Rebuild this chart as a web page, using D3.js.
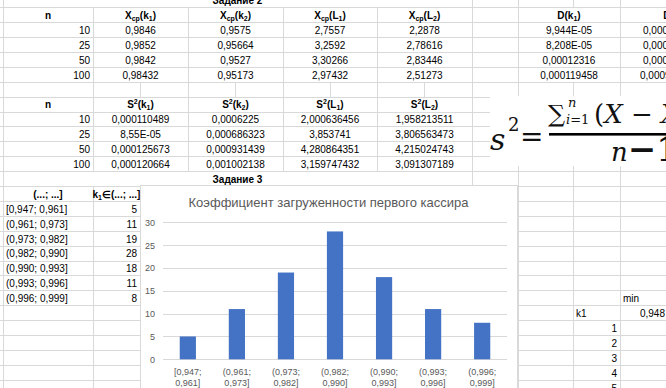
<!DOCTYPE html>
<html lang="ru">
<head>
<meta charset="UTF-8">
<title>Задание 3 — коэффициент загруженности</title>
<style>
  body { margin: 0; padding: 0; background: #fff; }
  svg { display: block; font-family: "Liberation Sans", Arial, sans-serif; }
  .cell { font-size: 10px; fill: #000; }
  .hdr { font-weight: bold; }
  .grid line { stroke: #d9d9d9; stroke-width: 1; shape-rendering: crispEdges; }
  .chart-text { fill: #595959; }
</style>
</head>
<body>
<svg width="666" height="388"></svg>
<script src="https://d3js.org/d3.v7.min.js"></script>
<script>
// ---- data ----
const nVals = [10, 25, 50, 100];
const varNames = [["k", "1"], ["k", "2"], ["L", "1"], ["L", "2"]];
const xcpK1 = ["0,9846", "0,9852", "0,9842", "0,98432"];
const xcpK2 = ["0,9575", "0,95664", "0,9527", "0,95173"];
const xcpL1 = ["2,7557", "3,2592", "3,30266", "2,97432"];
const xcpL2 = ["2,2878", "2,78616", "2,83446", "2,51273"];
const dK1 = ["9,944E-05", "8,208E-05", "0,00012316", "0,000119458"];
const dK2 = ["0,000", "0,000", "0,000", "0,0009"]; // cut off at the window edge
const s2K1 = ["0,000110489", "8,55E-05", "0,000125673", "0,000120664"];
const s2K2 = ["0,0006225", "0,000686323", "0,000931439", "0,001002138"];
const s2L1 = ["2,000636456", "3,853741", "4,280864351", "3,159747432"];
const s2L2 = ["1,958213511", "3,806563473", "4,215024743", "3,091307189"];

// Задание 3
const intervals = ["[0,947; 0,961]", "(0,961; 0,973]", "(0,973; 0,982]", "(0,982; 0,990]",
                   "(0,990; 0,993]", "(0,993; 0,996]", "(0,996; 0,999]"];
const counts = [5, 11, 19, 28, 18, 11, 8];
const yTicks = [0, 5, 10, 15, 20, 25, 30];
const chartTitle = "Коэффициент загруженности первого кассира";
const k1Rows = [1, 2, 3, 4, 5];

const svg = d3.select("svg");
svg.append("rect").attr("width", 666).attr("height", 388).attr("fill", "#fff");

// sheet geometry
const rowTop = r => -7.7 + 14.9 * r;
const base = r => rowTop(r) + 11.8;
const colX = [3, 93, 140, 188, 235, 283, 330, 377, 424, 472, 518, 573, 620];
const centers = [140.5, 235.5, 330, 424.5];

// which inner column edges are hidden by merged cells, per row
function hiddenEdges(r) {
    if (r === 0 || r === 12) return [93, 140, 188, 235, 283, 330, 377, 424];
    if (r >= 1 && r <= 5) return [140, 235, 330, 424, 573];
    if (r >= 7 && r <= 11) return [140, 235, 330, 424];
    return [];
}

// gridlines
const grid = svg.append("g").attr("class", "grid");
d3.range(0, 28).forEach(r => {
    const y = Math.round(rowTop(r)) + 0.5;
    grid.append("line").attr("x1", 0).attr("x2", 666).attr("y1", y).attr("y2", y);
    colX.filter(c => !hiddenEdges(r).includes(c)).forEach(c => {
        grid.append("line")
            .attr("x1", c + 0.5).attr("x2", c + 0.5)
            .attr("y1", rowTop(r)).attr("y2", rowTop(r + 1));
    });
});

const cells = svg.append("g");

function cell(x, r, text, anchor, bold) {
    return cells.append("text")
        .attr("class", bold ? "cell hdr" : "cell")
        .attr("x", x).attr("y", base(r))
        .attr("text-anchor", anchor)
        .text(text);
}

// text with small sub/superscripts
function rich(x, r, parts, anchor) {
    const t = cells.append("text")
        .attr("class", "cell hdr")
        .attr("x", x).attr("y", base(r))
        .attr("text-anchor", anchor);
    let shift = 0;
    parts.forEach(p => {
        const target = p.sub ? 2 : p.sup ? -4 : 0;
        t.append("tspan")
            .attr("dy", target - shift)
            .style("font-size", (p.sub || p.sup) ? "7px" : null)
            .text(p.t);
        shift = target;
    });
}

// Задание 2 — means
cell(237.5, 0, "Задание 2", "middle", true);
cell(48, 1, "n", "middle", true);
varNames.forEach((v, i) => {
    rich(centers[i], 1, [{ t: "X" }, { t: "ср", sub: true }, { t: "(" + v[0] }, { t: v[1], sub: true }, { t: ")" }], "middle");
});
rich(569, 1, [{ t: "D(k" }, { t: "1", sub: true }, { t: ")" }], "middle");
rich(675, 1, [{ t: "D(k" }, { t: "2", sub: true }, { t: ")" }], "middle");

const meanCols = [xcpK1, xcpK2, xcpL1, xcpL2];
nVals.forEach((n, j) => {
    const r = 2 + j;
    cell(90, r, n, "end");
    meanCols.forEach((col, i) => cell(centers[i], r, col[j], "middle"));
    cell(569, r, dK1[j], "middle");
    cell(j === 3 ? 640 : 643, r, dK2[j], "start");
});

// variances
cell(48, 7, "n", "middle", true);
varNames.forEach((v, i) => {
    rich(centers[i], 7, [{ t: "S" }, { t: "2", sup: true }, { t: "(" + v[0] }, { t: v[1], sub: true }, { t: ")" }], "middle");
});
const varCols = [s2K1, s2K2, s2L1, s2L2];
nVals.forEach((n, j) => {
    const r = 8 + j;
    cell(90, r, n, "end");
    varCols.forEach((col, i) => cell(centers[i], r, col[j], "middle"));
});

// Задание 3 table
cell(237.5, 12, "Задание 3", "middle", true);
cell(48, 13, "(...; ...]", "middle", true);
rich(116.5, 13, [{ t: "k" }, { t: "1", sub: true }, { t: "∈(...; ...]" }], "middle");
intervals.forEach((d, i) => {
    cell(6, 14 + i, d, "start").attr("fill", "#262626");
    cell(137, 14 + i, counts[i], "end");
});

// right-hand block under the formula
cell(623, 20, "min", "start");
cell(576, 21, "k1", "start");
cell(665, 21, "0,948", "end");
k1Rows.forEach((v, i) => cell(617, 22 + i, v, "end"));

// formula picture
const clip = svg.append("clipPath").attr("id", "fclip");
clip.append("rect").attr("x", 490).attr("y", 96).attr("width", 176).attr("height", 70);
const f = svg.append("g").attr("clip-path", "url(#fclip)")
    .style("font-family", "'DejaVu Serif', 'Liberation Serif', serif").attr("fill", "#111");
f.append("rect").attr("x", 490).attr("y", 96).attr("width", 176).attr("height", 70).attr("fill", "#fff");
f.append("text").attr("x", 490).attr("y", 150).style("font-size", "30px").style("font-style", "italic").text("s");
f.append("text").attr("x", 508).attr("y", 131).style("font-size", "18px").text("2");
f.append("text").attr("x", 520).attr("y", 146).style("font-size", "28px").text("=");
f.append("rect").attr("x", 549).attr("y", 133).attr("width", 120).attr("height", 2.6).attr("fill", "#000");
f.append("text").attr("x", 548).attr("y", 122).style("font-size", "24px").text("∑");
f.append("text").attr("x", 568).attr("y", 107).style("font-size", "13px").style("font-style", "italic").text("n");
f.append("text").attr("x", 566).attr("y", 124).style("font-size", "13px")
    .call(t => { t.append("tspan").style("font-style", "italic").text("i"); t.append("tspan").text("=1"); });
f.append("text").attr("x", 594).attr("y", 123).style("font-size", "26px")
    .call(t => {
        t.append("tspan").text("(");
        t.append("tspan").style("font-style", "italic").text("X");
        t.append("tspan").text(" − ");
        t.append("tspan").style("font-style", "italic").text("X");
    });
f.append("text").attr("x", 611).attr("y", 161).style("font-size", "26px")
    .call(t => {
        t.append("tspan").style("font-style", "italic").text("n");
        t.append("tspan").style("font-weight", "bold").style("font-size", "34px").text("−1");
    });

// ---- chart ----
const chart = svg.append("g");
chart.append("rect")
    .attr("x", 140.5).attr("y", 185.5).attr("width", 377).attr("height", 220)
    .attr("fill", "#fff").attr("stroke", "#d9d9d9");

const x = d3.scaleBand().domain(intervals).range([163.3, 506.7])
    .paddingInner(0.67).paddingOuter(0.335);
const y = d3.scaleLinear().domain([0, 30]).range([359.3, 222.3]);

chart.append("g").selectAll("line").data(yTicks).join("line")
    .attr("x1", 163.3).attr("x2", 506.7)
    .attr("y1", d => Math.round(y(d)) + 0.5).attr("y2", d => Math.round(y(d)) + 0.5)
    .attr("stroke", "#d9d9d9").attr("shape-rendering", "crispEdges");

const yAxis = chart.append("g").attr("transform", "translate(155,0)")
    .call(d3.axisLeft(y).tickValues(yTicks).tickSize(0).tickPadding(0));
yAxis.select(".domain").remove();
yAxis.selectAll("text").attr("class", "chart-text").style("font-size", "9px")
    .style("font-family", "'Liberation Sans', Arial, sans-serif");

chart.append("g").selectAll("rect").data(counts).join("rect")
    .attr("x", (d, i) => x(intervals[i]))
    .attr("y", d => y(d))
    .attr("width", x.bandwidth())
    .attr("height", d => y(0) - y(d))
    .attr("fill", "#4472c4");

const xAxis = chart.append("g").attr("transform", "translate(0,374.5)")
    .call(d3.axisBottom(x).tickSize(0).tickPadding(0));
xAxis.select(".domain").remove();
xAxis.selectAll("text")
    .attr("class", "chart-text").attr("dy", 0).attr("y", 0)
    .style("font-size", "9px").style("font-family", "'Liberation Sans', Arial, sans-serif")
    .each(function (d) {
        const parts = d.split(" ");
        const t = d3.select(this).text(null);
        t.append("tspan").attr("x", 0).attr("dy", 0).text(parts[0]);
        t.append("tspan").attr("x", 0).attr("dy", 11.5).text(parts[1]);
    });

chart.append("text")
    .attr("x", 328.5).attr("y", 206.5)
    .attr("text-anchor", "middle")
    .attr("class", "chart-text")
    .style("font-size", "13px")
    .text(chartTitle);
</script>
</body>
</html>
